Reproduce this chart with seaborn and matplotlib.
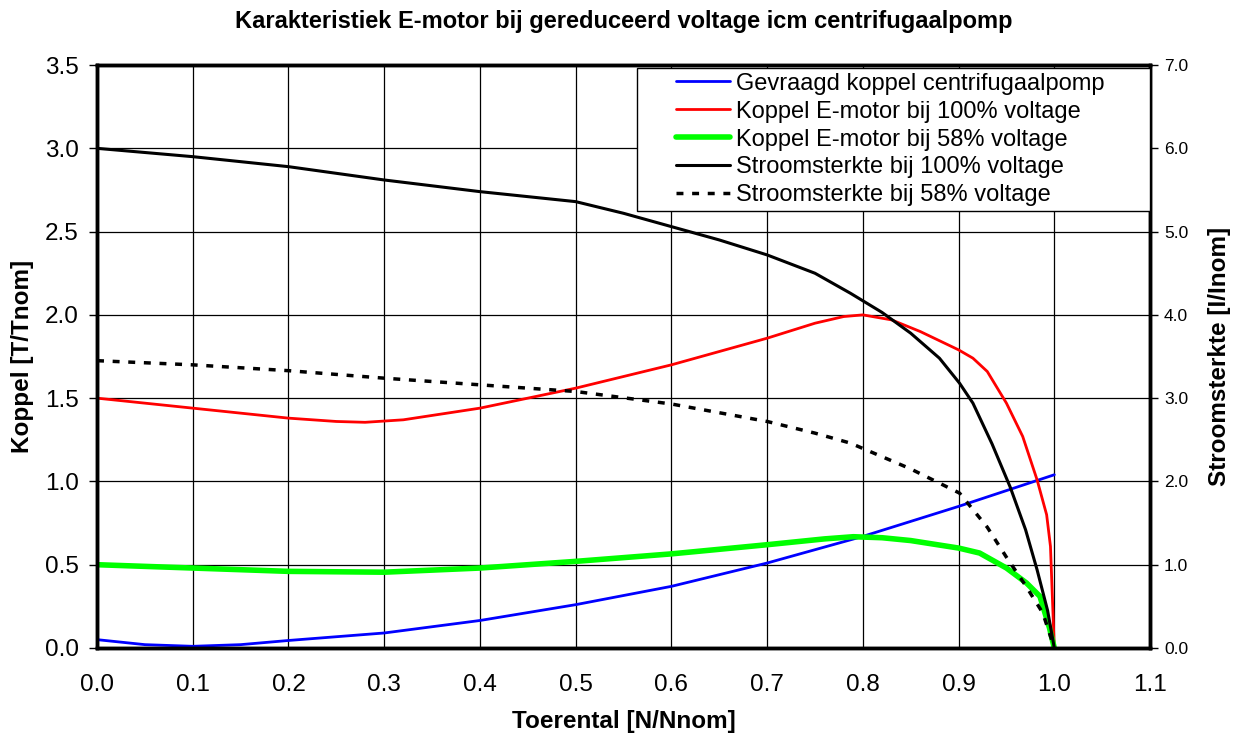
import matplotlib
matplotlib.use("Agg")
import matplotlib.pyplot as plt
from matplotlib.legend_handler import HandlerLine2D
import seaborn as sns
import pandas as pd

# Data
x_pump = [0.0, 0.05, 0.1, 0.15, 0.2, 0.3, 0.4, 0.5, 0.6, 0.7, 0.8, 0.9, 1.0]
t_pump = [0.05, 0.02, 0.01, 0.02, 0.045, 0.09, 0.165, 0.26, 0.37, 0.51, 0.67, 0.85, 1.04]

x_t100 = [0.0, 0.1, 0.2, 0.25, 0.28, 0.32, 0.4, 0.5, 0.6, 0.7, 0.75, 0.78, 0.8, 0.83, 0.86, 0.9, 0.915, 0.93, 0.95, 0.967, 0.982, 0.992, 0.996, 1.0]
t_t100 = [1.5, 1.44, 1.38, 1.36, 1.355, 1.37, 1.44, 1.56, 1.70, 1.86, 1.95, 1.99, 2.0, 1.97, 1.90, 1.79, 1.74, 1.66, 1.47, 1.27, 1.01, 0.8, 0.61, 0.0]

x_t58 = [0.0, 0.1, 0.2, 0.3, 0.4, 0.5, 0.6, 0.7, 0.76, 0.79, 0.82, 0.85, 0.9, 0.922, 0.95, 0.971, 0.985, 0.995, 1.0]
t_t58 = [0.5, 0.48, 0.46, 0.455, 0.48, 0.52, 0.565, 0.62, 0.655, 0.668, 0.662, 0.645, 0.6, 0.57, 0.48, 0.39, 0.31, 0.12, 0.0]

x_i100 = [0.0, 0.1, 0.2, 0.3, 0.4, 0.5, 0.55, 0.6, 0.65, 0.7, 0.75, 0.787, 0.82, 0.85, 0.88, 0.901, 0.915, 0.935, 0.954, 0.97, 0.982, 0.993, 1.0]
i_i100 = [6.0, 5.9, 5.78, 5.62, 5.48, 5.36, 5.22, 5.06, 4.9, 4.72, 4.5, 4.26, 4.03, 3.78, 3.48, 3.18, 2.94, 2.45, 1.93, 1.42, 0.94, 0.45, 0.0]

x_i58 = [0.0, 0.1, 0.2, 0.3, 0.4, 0.5, 0.6, 0.7, 0.75, 0.787, 0.85, 0.901, 0.93, 0.95, 0.97, 0.988, 1.0]
i_i58 = [3.45, 3.40, 3.33, 3.24, 3.16, 3.08, 2.93, 2.72, 2.58, 2.46, 2.15, 1.86, 1.45, 1.09, 0.75, 0.42, 0.0]

labels = ["Gevraagd koppel centrifugaalpomp",
          "Koppel E-motor bij 100% voltage",
          "Koppel E-motor bij 58% voltage",
          "Stroomsterkte bij 100% voltage",
          "Stroomsterkte bij 58% voltage"]

left_ticks = [0.0, 0.5, 1.0, 1.5, 2.0, 2.5, 3.0, 3.5]
right_ticks = [0.0, 1.0, 2.0, 3.0, 4.0, 5.0, 6.0, 7.0]
x_ticks = [0.0, 0.1, 0.2, 0.3, 0.4, 0.5, 0.6, 0.7, 0.8, 0.9, 1.0, 1.1]

sns.set_theme(style="white")
plt.rcParams['font.family'] = ['Liberation Sans', 'DejaVu Sans']
plt.rcParams['text.color'] = 'black'
plt.rcParams['axes.labelcolor'] = 'black'
plt.rcParams['xtick.color'] = 'black'
plt.rcParams['ytick.color'] = 'black'

fig = plt.figure(figsize=(12.33, 7.36), dpi=100)
ax = fig.add_axes([0.0787, 0.1196, 0.854, 0.792])
ax2 = ax.twinx()

df_p = pd.DataFrame({"x": x_pump, "y": t_pump})
df_t100 = pd.DataFrame({"x": x_t100, "y": t_t100})
df_t58 = pd.DataFrame({"x": x_t58, "y": t_t58})
df_i100 = pd.DataFrame({"x": x_i100, "y": i_i100})
df_i58 = pd.DataFrame({"x": x_i58, "y": i_i58})

sns.lineplot(data=df_p, x="x", y="y", ax=ax, color="#0000ff", lw=2, sort=False, label=labels[0], legend=False)
sns.lineplot(data=df_t100, x="x", y="y", ax=ax, color="#ff0000", lw=2, sort=False, label=labels[1], legend=False)
sns.lineplot(data=df_t58, x="x", y="y", ax=ax, color="#00ff00", lw=4, sort=False, label=labels[2], legend=False)
sns.lineplot(data=df_i100, x="x", y="y", ax=ax2, color="black", lw=2.2, sort=False, label=labels[3], legend=False)
sns.lineplot(data=df_i58, x="x", y="y", ax=ax2, color="black", lw=2.5, sort=False, label=labels[4], legend=False,
             linestyle=(0, (2, 2.5)))

ax.set_xlim(0, 1.1)
ax.set_ylim(0, 3.5)
ax2.set_ylim(0, 7.0)
ax.set_xticks(x_ticks)
ax.set_xticklabels([f"{v:.1f}" for v in x_ticks], fontsize=17.5)
ax.set_yticks(left_ticks)
ax.set_yticklabels([f"{v:.1f}" for v in left_ticks], fontsize=17.5)
ax2.set_yticks(right_ticks)
ax2.set_yticklabels([f"{v:.1f}" for v in right_ticks], fontsize=12.5)

ax.grid(True, color="black", lw=0.9)
ax.set_axisbelow(True)
for a in (ax, ax2):
    for s in a.spines.values():
        s.set_color("black")
        s.set_linewidth(2.5)
ax.tick_params(axis="x", direction="out", length=6, width=1, color="black", pad=13)
ax.tick_params(axis="y", direction="out", length=6, width=1, color="black", pad=7)
ax2.tick_params(axis="y", direction="out", length=6, width=1, color="black", pad=4)

ax.set_xlabel("Toerental [N/Nnom]", fontsize=17.5, fontweight="bold", labelpad=10)
ax.set_ylabel("Koppel [T/Tnom]", fontsize=17.5, fontweight="bold", labelpad=8)
ax2.set_ylabel("Stroomsterkte [I/Inom]", fontsize=17.5, fontweight="bold", labelpad=14)
ax.set_title("Karakteristiek E-motor bij gereduceerd voltage icm centrifugaalpomp",
             fontsize=17, fontweight="bold", pad=27)

h1, l1 = ax.get_legend_handles_labels()
h2, l2 = ax2.get_legend_handles_labels()
hmap = {h: HandlerLine2D(xpad=1.45) for h in h1 + h2}
leg = ax2.legend(h1 + h2, l1 + l2, loc="upper left", mode="expand",
                 bbox_to_anchor=(0.5128, 0.0, 0.4872, 0.995),
                 fontsize=17, frameon=True, fancybox=False, framealpha=1,
                 edgecolor="black", borderpad=0.2, labelspacing=0.25,
                 handlelength=3.75, handletextpad=0.25, borderaxespad=0,
                 handler_map=hmap)
leg.get_frame().set_linewidth(1)

fig.savefig("out.png", dpi=100)
